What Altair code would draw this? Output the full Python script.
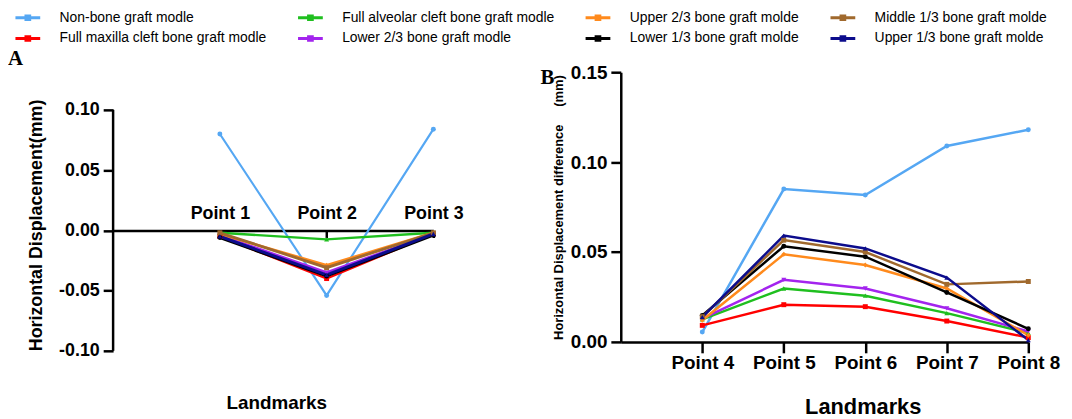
import altair as alt
import pandas as pd

# ---- series (legend order; legend fills column by column, 2 rows) ----
series = [
    "Non-bone graft modle",
    "Full maxilla cleft bone graft modle",
    "Full alveolar cleft bone graft modle",
    "Lower 2/3 bone graft modle",
    "Upper 2/3 bone graft molde",
    "Lower 1/3 bone graft molde",
    "Middle 1/3 bone graft molde",
    "Upper 1/3 bone graft molde",
]
marker_keys = ["m0", "m1", "m2", "m3", "m4", "m5", "m6", "m7"]
colors = ["#55A7F3", "#FF0000", "#1FBF1F", "#A324EE", "#FF8A1C", "#000000", "#A0692D", "#0C0C8C"]
shapes = ["circle", "square", "triangle-up", "triangle-down", "diamond", "circle", "square", "triangle-up"]

# ---- panel A ----
pointsA = [1, 2, 3]
valsA = {
    "Non-bone graft modle": [0.080, -0.054, 0.084],
    "Full maxilla cleft bone graft modle": [-0.005, -0.040, -0.003],
    "Full alveolar cleft bone graft modle": [-0.002, -0.0075, -0.002],
    "Lower 2/3 bone graft modle": [-0.004, -0.035, -0.003],
    "Upper 2/3 bone graft molde": [-0.003, -0.029, -0.002],
    "Lower 1/3 bone graft molde": [-0.006, -0.038, -0.004],
    "Middle 1/3 bone graft molde": [-0.002, -0.031, -0.002],
    "Upper 1/3 bone graft molde": [-0.005, -0.037, -0.003],
}

# ---- panel B ----
pointsB = [4, 5, 6, 7, 8]
valsB = {
    "Non-bone graft modle": [0.0055, 0.085, 0.0817, 0.109, 0.118],
    "Full maxilla cleft bone graft modle": [0.0092, 0.0207, 0.0196, 0.0116, 0.0024],
    "Full alveolar cleft bone graft modle": [0.0125, 0.0297, 0.0257, 0.016, 0.005],
    "Lower 2/3 bone graft modle": [0.013, 0.0345, 0.0297, 0.0187, 0.0058],
    "Upper 2/3 bone graft molde": [0.012, 0.0487, 0.0428, 0.0297, 0.0037],
    "Lower 1/3 bone graft molde": [0.0147, 0.0532, 0.0474, 0.0275, 0.0073],
    "Middle 1/3 bone graft molde": [0.014, 0.0566, 0.050, 0.032, 0.0336],
    "Upper 1/3 bone graft molde": [0.0138, 0.0591, 0.052, 0.0358, 0.001],
}


def long_df(points, vals):
    rows = []
    for s, k in zip(series, marker_keys):
        for p, v in zip(points, vals[s]):
            rows.append({"series": s, "mk": k, "pos": p, "value": v})
    return pd.DataFrame(rows)


dfA = long_df(pointsA, valsA)
dfB = long_df(pointsB, valsB)

LEG_PATH = "M-2,0H2M-0.3,-0.3H0.3V0.3H-0.3Z"
legend = alt.Legend(
    orient="none", legendX=-94, legendY=-63, columns=4, title=None,
    labelFontSize=14, labelFont="Liberation Sans", labelColor="black", labelLimit=400,
    labelExpr="datum.label == 'Full alveolar cleft bone graft modle' ? datum.label + '\u00a0\u00a0\u00a0\u00a0\u00a0' : datum.label",
    symbolType=LEG_PATH, symbolSize=156, symbolStrokeWidth=3,
    columnPadding=25, rowPadding=5, labelOffset=24,
)
color = alt.Color("series:N", scale=alt.Scale(domain=series, range=colors), legend=legend)
color_nolegend = alt.Color("series:N", scale=alt.Scale(domain=series, range=colors), legend=None)
shape = alt.Shape("mk:N", scale=alt.Scale(domain=marker_keys, range=shapes), legend=None)

FONT = "Liberation Sans"

# ----- Panel A -----
HA = 281
xA = alt.X(
    "pos:Q",
    scale=alt.Scale(domain=[0, 3], nice=False, zero=False),
    axis=alt.Axis(
        values=[1, 2, 3], labelExpr="'Point ' + datum.value", orient="bottom",
        offset=-121.3, tickSize=7, tickWidth=2.5, domainWidth=2.5,
        labelPadding=-19, labelBaseline="alphabetic", labelFontSize=18, labelFontWeight="bold",
        labelFlush=False, labelOverlap=False, grid=False,
        title="Landmarks", titleFontSize=19, titleFontWeight="bold",
        titleX=164.5, titleY=179, titleBaseline="alphabetic",
    ),
)
yA = alt.Y(
    "value:Q",
    scale=alt.Scale(domain=[-0.1, 0.1313], nice=False, zero=False),
    axis=alt.Axis(
        values=[-0.1, -0.05, 0, 0.05, 0.1], format=".2f",
        labelExpr="replace(datum.label, '\u2212', '-')",
        domain=False, grid=False, tickSize=10, tickWidth=2.5,
        labelFontSize=18, labelFontWeight="bold", labelPadding=4,
        title="Horizontal Displacement(mm)", titleFontSize=18, titleFontWeight="bold",
        titlePadding=13, titleY=154,
    ),
)
widthsA = [2.2, 3, 3, 3, 4, 3, 2.5, 3]
baseA = alt.Chart(dfA)
linesA = baseA.mark_line().encode(
    x=xA, y=yA, color=color,
    strokeWidth=alt.StrokeWidth("mk:N", scale=alt.Scale(domain=marker_keys, range=widthsA), legend=None),
)
ptsA = baseA.mark_point(filled=True, opacity=1).encode(
    x="pos:Q", y="value:Q", color=color_nolegend, shape=shape,
    size=alt.Size("mk:N", scale=alt.Scale(domain=marker_keys, range=[25, 25, 25, 25, 20, 30, 50, 30]), legend=None),
)
ruleA = alt.Chart(pd.DataFrame({"x": [0], "y1": [-0.1], "y2": [0.1]})).mark_rule(
    color="black", strokeWidth=2.5
).encode(x="x:Q", y="y1:Q", y2="y2:Q")
labA = alt.Chart(pd.DataFrame({"t": ["A"]})).mark_text(
    font="Liberation Serif", fontWeight="bold", fontSize=21, align="left", baseline="middle", color="black"
).encode(text="t:N", x=alt.value(-106), y=alt.value(-13))
panelA = alt.layer(ruleA, linesA, ptsA, labA).properties(width=323, height=HA)

# ----- Panel B -----
xB = alt.X(
    "pos:Q",
    scale=alt.Scale(domain=[3, 8], nice=False, zero=False),
    axis=alt.Axis(
        values=[4, 5, 6, 7, 8], labelExpr="'Point ' + datum.value",
        tickSize=11, tickWidth=2.5, domainWidth=2.5, labelPadding=1,
        labelFontSize=19, labelFontWeight="bold", labelFlush=False, labelOverlap=False, grid=False,
        title="Landmarks", titleFontSize=22, titleFontWeight="bold",
        titleX=244, titleY=72, titleBaseline="alphabetic",
    ),
)
yB = alt.Y(
    "value:Q",
    scale=alt.Scale(domain=[0, 0.15], nice=False, zero=False),
    axis=alt.Axis(
        values=[0, 0.05, 0.1, 0.15], format=".2f", grid=False,
        tickSize=10, tickWidth=2.5, domainWidth=2.5,
        labelFontSize=19, labelFontWeight="bold", labelPadding=4,
        title="Horizontal Displacement difference\u00a0\u00a0\u00a0\u00a0\u00a0(mm)",
        titleFontSize=13, titleFontWeight="bold", titlePadding=5,
    ),
)
baseB = alt.Chart(dfB)
linesB = baseB.mark_line(strokeWidth=2.5).encode(x=xB, y=yB, color=color)
ptsB = baseB.mark_point(filled=True, opacity=1).encode(
    x="pos:Q", y="value:Q", color=color_nolegend, shape=shape,
    size=alt.Size("mk:N", scale=alt.Scale(domain=marker_keys, range=[30, 45, 40, 40, 25, 90, 140, 80]), legend=None),
)
labB = alt.Chart(pd.DataFrame({"t": ["B"]})).mark_text(
    font="Liberation Serif", fontWeight="bold", fontSize=21, align="left", baseline="middle", color="black"
).encode(text="t:N", x=alt.value(-81), y=alt.value(6))
panelB = alt.layer(linesB, ptsB, labB).properties(width=411, height=272)

chart = (
    alt.hconcat(panelA, panelB, spacing=189, bounds="flush")
    .resolve_scale(color="shared")
    .properties(padding={"left": 0, "top": 0, "right": 4, "bottom": 0})
    .configure_view(stroke=None)
    .configure_axis(
        domainColor="black", tickColor="black", labelColor="black", titleColor="black",
        labelFont=FONT, titleFont=FONT,
    )
)

chart.save("out.html", embed_options={"renderer": "svg", "actions": False})
